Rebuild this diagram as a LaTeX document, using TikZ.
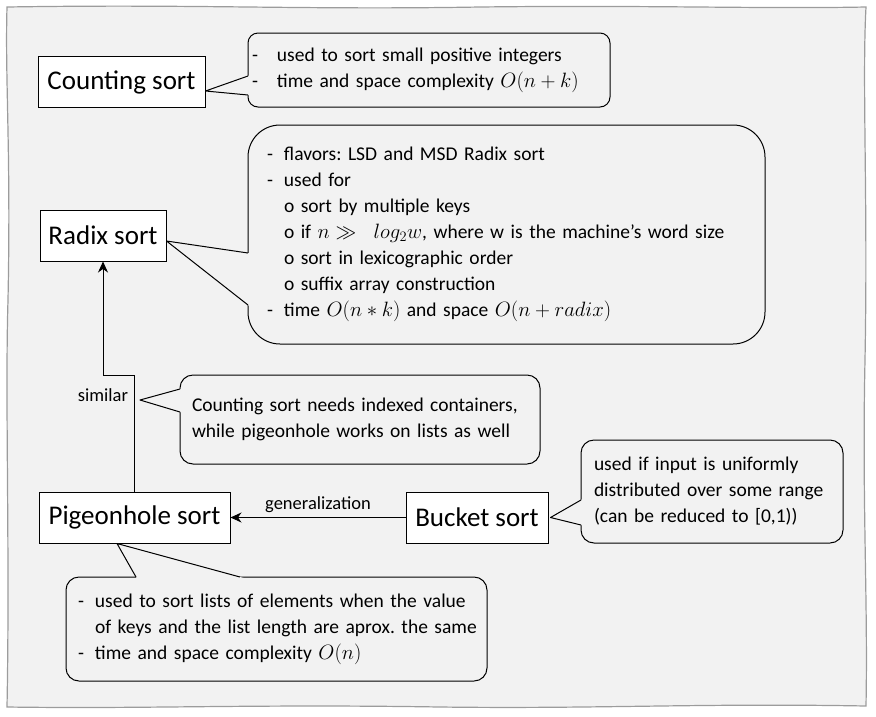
\documentclass[tikz,border=0pt]{standalone}
\usepackage{fontspec}
\setmainfont{Carlito}
\usetikzlibrary{positioning,arrows.meta,calc}
\frenchspacing

\definecolor{paper}{HTML}{F2F2F2}
\definecolor{paperedge}{HTML}{9C9C9C}

% list marks inside the notes
\newcommand{\bul}[1][25pt]{\makebox[#1][l]{-}}
\newcommand{\subbul}{\hspace*{17pt}o\ }
% pointer of a note: first base, tip, second base
\newcommand{\notetip}[3]{%
  \fill[paper] ($#2!1.06!#1$) -- #2 -- ($#2!1.06!#3$) -- cycle;
  \draw[tipline] #1 -- #2 -- #3;}

\tikzset{
  sortbox/.style={draw, line width=1pt, fill=white, minimum height=51pt, inner sep=0pt,
    font=\fontsize{27}{32}\selectfont},
  note/.style={draw, line width=1pt, fill=paper, rounded corners=#1, align=left,
    inner ysep=0pt, font=\fontsize{19.5}{26}\selectfont},
  note/.default=13pt,
  tipline/.style={line width=1pt, line join=round},
  link/.style={line width=1pt, -{Stealth[length=11pt,width=10pt,inset=3.5pt]}},
  linklabel/.style={font=\fontsize{18.5}{22}\selectfont}
}

\begin{document}
\begin{tikzpicture}[x=1pt,y=-1pt]
\useasboundingbox (0,0) rectangle (876,716);
% sheet
\draw[paperedge, line width=1.2pt, fill=paper] (7,7) .. controls (200,4) and (300,10) .. (480,7)
  .. controls (650,5) and (760,9) .. (866,7) .. controls (862,80) and (868,200) .. (865,360)
  .. controls (862,500) and (868,600) .. (866,706) .. controls (700,703) and (600,709) .. (440,707)
  .. controls (250,704) and (150,709) .. (7,707) .. controls (10,550) and (5,400) .. (8,300)
  .. controls (11,150) and (5,80) .. (7,7) -- cycle;

% sorts
\node[sortbox, minimum width=167pt] (counting) at (121.5,82) {Counting sort};
\node[sortbox, minimum width=126pt] (radix) at (103,235.5) {Radix sort};
\node[sortbox, minimum width=191pt] (pigeon) at (134.5,517.5) {Pigeonhole sort};
\node[sortbox, minimum width=142pt, right=175pt of pigeon] (bucket) {Bucket sort};

% notes
\node[note=10pt, inner xsep=4pt, text width=354pt, minimum height=74pt] (countnote) at (429,70)
  {\bul used to sort small positive integers\\
   \bul time and space complexity $O(n+k)$};
\node[note=32pt, inner xsep=19pt, text width=479pt, minimum height=219pt] (radixnote) at (506.5,234.5)
  {\bul[17pt]flavors: LSD and MSD Radix sort\\
   \bul[17pt]used for\\
   \subbul sort by multiple keys\\
   \subbul if $n \gg\;\; log_2w$, where w is the machine’s word size\\
   \subbul sort in lexicographic order\\
   \subbul suffix array construction\\
   \bul[17pt]time $O(n*k)$ and space $O(n+radix)$};
\node[note, inner xsep=12pt, text width=336pt, minimum height=89pt] (simnote) at (360,419.5)
  {Counting sort needs indexed containers,\\
   while pigeonhole works on lists as well};
\node[note, inner xsep=13pt, text width=236pt, minimum height=103pt] (bucketnote) at (712,491.5)
  {used if input is uniformly\\
   distributed over some range\\
   (can be reduced to [0,1))};
\node[note, inner xsep=12pt, text width=397pt, minimum height=104pt] (pigeonnote) at (276.5,629)
  {\bul[17pt]used to sort lists of elements when the value\\
   \mbox{\hspace*{17pt}of keys and the list length are aprox. the same}\\
   \bul[17pt]time and space complexity $O(n)$};

\coordinate (counttip) at ([yshift=-9pt]counting.east);
\coordinate (radixtip) at ([yshift=-5.5pt]radix.east);
\coordinate (simtip) at (140,400);
\coordinate (buckettip) at ([xshift=2pt]bucket.east);
\coordinate (pigeontip) at ([xshift=-17.5pt]pigeon.south);

\notetip{(248,76)}{(counttip)}{(248,95)}
\notetip{(248,253)}{(radixtip)}{(248,305)}
\notetip{(180,389)}{(simtip)}{(180,412)}
\notetip{(581,500)}{(buckettip)}{(581,525)}
\notetip{(136,577)}{(pigeontip)}{(240,577)}

% relations
\draw[link] (pigeon.north) -- node[linklabel, left, pos=0.83, inner sep=6pt] {similar} ++(0,-116) -| (radix.south);
\draw[link] (bucket) -- node[linklabel, above=1pt] {generalization} (pigeon);
\end{tikzpicture}
\end{document}
